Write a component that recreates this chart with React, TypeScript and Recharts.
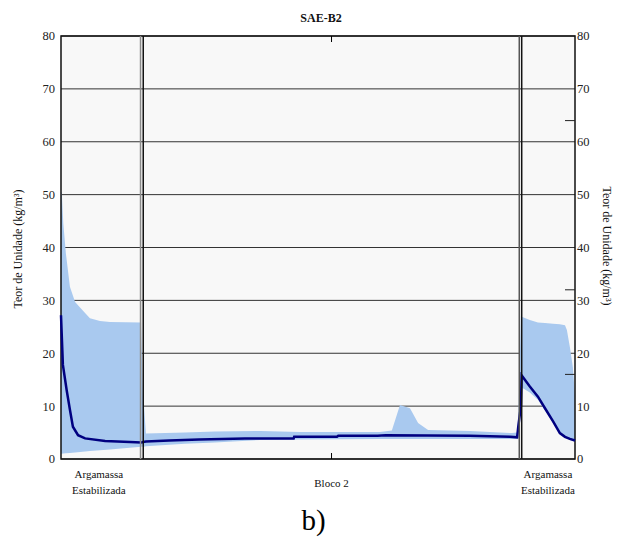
import {
  Area,
  CartesianGrid,
  ComposedChart,
  Line,
  ReferenceArea,
  ReferenceLine,
  XAxis,
  YAxis,
} from "recharts";

// position through the wall (cm)
const bandX = [
  0, 0.03, 0.085, 0.18, 0.33, 0.52, 0.89, 1.07, 1.44, 1.81, 2.96,
  3.03, 3.06, 3.14, 4.58, 5.69, 7.36, 8.84, 11.79, 12.23, 12.53, 12.9, 13.2, 13.57, 15.12, 16.67, 16.86, 16.91,
  17.0, 17.03, 17.33, 17.63, 17.89, 18.19, 18.44, 18.63, 18.7, 18.81, 18.92, 19.0,
];
const bandLow = [
  1.0, 1.0, 1.05, 1.1, 1.15, 1.25, 1.4, 1.5, 1.65, 1.8, 2.3,
  2.3, 2.3, 2.4, 2.9, 3.1, 3.6, 3.7, 3.8, 3.8, 3.8, 3.8, 3.8, 3.8, 3.8, 3.8, 3.8, 4.0,
  10.0, 13.5, 12.6, 11.2, 9.2, 6.8, 4.7, 4.0, 3.9, 3.6, 3.4, 3.3,
];
const bandHigh = [
  50.5, 50.3, 44.6, 38.9, 32.6, 29.7, 27.6, 26.6, 26.1, 25.9, 25.8,
  10.8, 10.5, 4.8, 5.0, 5.2, 5.3, 5.1, 5.1, 5.4, 10.2, 9.6, 6.8, 5.5, 5.3, 4.9, 5.0, 8.7,
  27.0, 26.9, 26.3, 25.8, 25.7, 25.6, 25.5, 25.3, 24.4, 21.2, 17.4, 12.0,
];

const lineX = [
  0, 0.07, 0.21, 0.33, 0.44, 0.63, 0.89, 1.63, 2.55, 2.96,
  3.03, 3.14, 4.0, 5.1, 6.8, 8.6, 8.62, 10.2, 10.25, 11.7, 12.0, 15.1, 16.6, 16.86, 16.9,
  17.0, 17.03, 17.33, 17.63, 17.89, 18.19, 18.44, 18.63, 18.81, 19.0,
];
const lineY = [
  27.2, 17.8, 13.0, 9.3, 6.1, 4.5, 3.9, 3.4, 3.2, 3.1,
  3.2, 3.3, 3.5, 3.7, 3.9, 3.9, 4.2, 4.2, 4.4, 4.4, 4.5, 4.4, 4.2, 4.1, 6.0,
  10.0, 15.8, 13.7, 11.8, 9.6, 7.1, 4.9, 4.2, 3.8, 3.5,
];

const yTicks = [0, 10, 20, 30, 40, 50, 60, 70, 80];
const rightMinorTicks = [16, 32, 64];

const regionTicks = [1.4, 10, 18];
const regionLabels: Record<number, string[]> = {
  1.4: ["Argamassa", "Estabilizada"],
  10: ["Bloco 2"],
  18: ["Argamassa", "Estabilizada"],
};

const dividers = [
  { x: 2.94, color: "#8c8c8c" },
  { x: 3.04, color: "#111111" },
  { x: 16.94, color: "#555555" },
  { x: 17.03, color: "#111111" },
];

const FONT = "'Liberation Serif', 'DejaVu Serif', 'Noto Serif', Tinos, serif";
const PLOT_TOP = 36;
const PLOT_BOTTOM = 459;
const PLOT_RIGHT = 575;

const bandData = bandX.map((x, i) => ({ x, range: [bandLow[i], bandHigh[i]] }));
const lineData = lineX.map((x, i) => ({ x, value: lineY[i] }));

const textStyle = { fontFamily: FONT };

function RegionTick(props: any) {
  const { x, payload } = props;
  const lines = regionLabels[payload.value] ?? [];
  const isBlock = lines.length === 1;
  return (
    <g>
      {isBlock && (
        <>
          <line x1={x} x2={x} y1={PLOT_BOTTOM} y2={PLOT_BOTTOM - 6} stroke="#000" />
          <line x1={x} x2={x} y1={PLOT_TOP} y2={PLOT_TOP + 6} stroke="#000" />
        </>
      )}
      {lines.map((t, i) => (
        <text
          key={t}
          x={x}
          y={isBlock ? 487 : 478 + i * 16}
          textAnchor="middle"
          style={textStyle}
          fontSize={11}
          fill="#111"
        >
          {t}
        </text>
      ))}
    </g>
  );
}

function RightTick(props: any) {
  const { y, payload } = props;
  if (rightMinorTicks.includes(payload.value)) {
    return <line x1={PLOT_RIGHT - 10} x2={PLOT_RIGHT} y1={y} y2={y} stroke="#222" />;
  }
  return (
    <text x={PLOT_RIGHT + 2} y={y} dy="0.35em" style={textStyle} fontSize={12.5} fill="#222">
      {payload.value}
    </text>
  );
}

function LeftTick(props: any) {
  const { y, payload } = props;
  return (
    <text x={55} y={y} dy="0.35em" textAnchor="end" style={textStyle} fontSize={12.5} fill="#222">
      {payload.value}
    </text>
  );
}

export default function App() {
  return (
    <div
      style={{
        position: "absolute",
        left: 0,
        top: 0,
        width: 617,
        height: 539,
        background: "#fff",
        fontFamily: FONT,
      }}
    >
      <ComposedChart
        width={617}
        height={500}
        margin={{ top: PLOT_TOP, right: 0, bottom: 0, left: 0 }}
        style={{ fontFamily: FONT }}
      >
        <text x={321} y={22} textAnchor="middle" style={textStyle} fontSize={12} fontWeight="bold" fill="#111">
          SAE-B2
        </text>
        <text
          transform="translate(22, 249) rotate(-90)"
          textAnchor="middle"
          style={textStyle}
          fontSize={12}
          fill="#111"
        >
          Teor de Unidade (kg/m³)
        </text>
        <text
          transform="translate(603, 246) rotate(90)"
          textAnchor="middle"
          style={textStyle}
          fontSize={12}
          fill="#111"
        >
          Teor de Unidade (kg/m³)
        </text>
        <CartesianGrid
          yAxisId="left"
          vertical={false}
          stroke="#333"
          fill="#f8f8f8"
          fillOpacity={1}
        />
        <XAxis
          type="number"
          dataKey="x"
          domain={[0, 19]}
          ticks={regionTicks}
          interval={0}
          height={41}
          axisLine={false}
          tickLine={false}
          tick={<RegionTick />}
        />
        <YAxis
          yAxisId="left"
          orientation="left"
          width={61}
          domain={[0, 80]}
          ticks={yTicks}
          interval={0}
          axisLine={false}
          tickLine={false}
          tick={<LeftTick />}
        />
        <YAxis
          yAxisId="right"
          orientation="right"
          width={42}
          domain={[0, 80]}
          ticks={[...yTicks, ...rightMinorTicks].sort((a, b) => a - b)}
          interval={0}
          axisLine={false}
          tickLine={false}
          tick={<RightTick />}
        />
        <Area
          yAxisId="right"
          data={bandData}
          dataKey="range"
          type="linear"
          stroke="none"
          fill="#a9c9ef"
          fillOpacity={1}
          isAnimationActive={false}
        />
        <Line
          yAxisId="left"
          data={lineData}
          dataKey="value"
          type="linear"
          stroke="#000080"
          strokeWidth={2.5}
          dot={false}
          isAnimationActive={false}
        />
        {dividers.map((d) => (
          <ReferenceLine
            key={d.x}
            yAxisId="left"
            x={d.x}
            stroke={d.color}
            strokeWidth={1.5}
          />
        ))}
        <ReferenceArea
          yAxisId="left"
          x1={0}
          x2={19}
          y1={0}
          y2={80}
          fill="none"
          stroke="#111"
          strokeWidth={1.5}
          ifOverflow="visible"
        />
      </ComposedChart>
      <div
        style={{
          position: "absolute",
          left: 0,
          width: 617,
          top: 503,
          textAlign: "center",
          fontFamily: FONT,
          fontSize: 29,
          lineHeight: "34px",
          color: "#000",
          paddingLeft: 10,
          boxSizing: "border-box",
        }}
      >
        b)
      </div>
    </div>
  );
}
